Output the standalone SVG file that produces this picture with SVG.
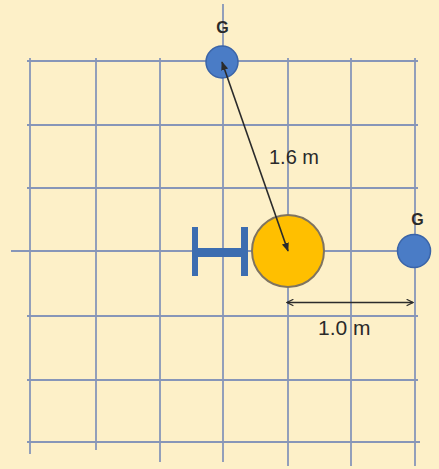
<svg xmlns="http://www.w3.org/2000/svg" width="439" height="469" viewBox="0 0 439 469">
<defs>
<style>
.grid line{stroke:#8796b8;stroke-width:1.8;fill:none}
.lbl{font-family:"Liberation Sans",Arial,sans-serif;fill:#2a2a2a;}
.dim{stroke:#2b2b2b;stroke-width:1.6;fill:none}
.g{fill:#4a7cc6;stroke:#3a64a8;stroke-width:1.5}
.bar{fill:#3c6db0}
</style>
<marker id="ah" viewBox="0 0 10 10" refX="9" refY="5" markerWidth="8" markerHeight="8" orient="auto-start-reverse" markerUnits="userSpaceOnUse">
<path d="M1,1 L9,5 L1,9" fill="none" stroke="#2b2b2b" stroke-width="1.6"/>
</marker>
<marker id="ahf" viewBox="0 0 10 10" refX="9" refY="5" markerWidth="9" markerHeight="9" orient="auto-start-reverse" markerUnits="userSpaceOnUse">
<path d="M0,1 L10,5 L0,9 z" fill="#2b2b2b"/>
</marker>
</defs>
<rect width="439" height="469" fill="#fdf0c8"/>
<g id="grid" class="grid">
<line x1="27" y1="61" x2="418" y2="61"/>
<line x1="27" y1="125" x2="418" y2="125"/>
<line x1="27" y1="188" x2="418" y2="188"/>
<line x1="11" y1="251" x2="430" y2="251"/>
<line x1="27" y1="316" x2="418" y2="316"/>
<line x1="27" y1="380" x2="418" y2="380"/>
<line x1="27" y1="442" x2="420" y2="442"/>
<line x1="30" y1="58" x2="30" y2="454"/>
<line x1="96" y1="58" x2="96" y2="450"/>
<line x1="160" y1="58" x2="160" y2="462"/>
<line x1="223" y1="4" x2="223" y2="462"/>
<line x1="288" y1="58" x2="288" y2="466"/>
<line x1="351" y1="58" x2="351" y2="466"/>
<line x1="415" y1="58" x2="415" y2="466"/>
</g>
<g id="gen-top">
<circle class="g" cx="222" cy="62" r="16"/>
<text class="lbl" x="222.5" y="33" font-size="16" font-weight="bold" text-anchor="middle">G</text>
</g>
<g id="gen-right">
<circle class="g" cx="414" cy="251" r="16.5"/>
<text class="lbl" x="417.5" y="225" font-size="16" font-weight="bold" text-anchor="middle">G</text>
</g>
<g id="observer">
<rect class="bar" x="192" y="227" width="6" height="49"/>
<rect class="bar" x="241" y="227" width="7" height="49"/>
<rect class="bar" x="195" y="248" width="50" height="9"/>
</g>
<g id="target">
<circle cx="288" cy="251" r="36" fill="#ffbf00" stroke="#7f7460" stroke-width="2"/>
</g>
<g id="connectors">
<line class="dim" x1="222" y1="62" x2="288" y2="251" marker-start="url(#ahf)" marker-end="url(#ahf)"/>
<line class="dim" x1="287" y1="302.5" x2="413" y2="302.5" marker-start="url(#ah)" marker-end="url(#ah)"/>
</g>
<text class="lbl" x="269" y="164" font-size="20">1.6 m</text>
<text class="lbl" x="318" y="335" font-size="21">1.0 m</text>
</svg>
